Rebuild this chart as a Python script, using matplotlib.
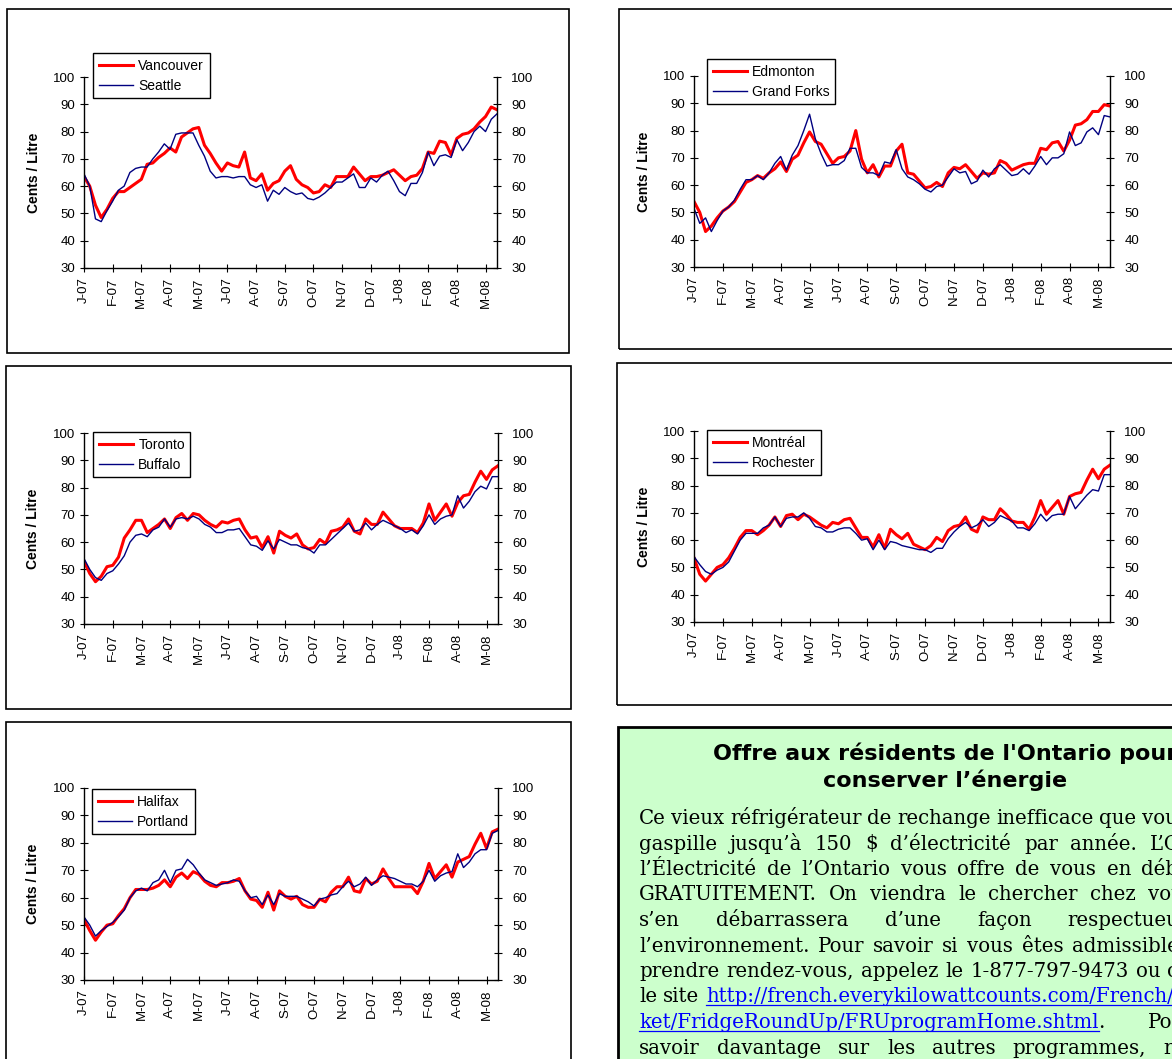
import matplotlib
matplotlib.use("Agg")
import matplotlib.pyplot as plt
import numpy as np
from matplotlib.patches import Rectangle
from matplotlib.lines import Line2D

plt.rcParams['font.family'] = ['Liberation Sans', 'DejaVu Sans']

W, H = 1172, 1059

# weekly prices, Jan 2007 - May 2008 (cents / litre)
weeks = np.arange(73)
tick_pos = np.arange(0, 71, 5)
tick_labels = ["J-07", "F-07", "M-07", "A-07", "M-07", "J-07", "A-07", "S-07",
               "O-07", "N-07", "D-07", "J-08", "F-08", "A-08", "M-08"]

vancouver = [63.5, 60, 53, 48.5, 51.5, 55.5, 58, 58, 59.5, 61,
             62.5, 68, 68.5, 70.5, 72, 74, 72.5, 78, 79.5, 81,
             81.5, 75, 72, 68.5, 65.5, 68.5, 67.5, 67, 72.5, 63,
             62, 64.5, 58.5, 61, 62, 65.5, 67.5, 62.5, 60.5, 59.5,
             57.5, 58, 60.5, 59.5, 63.5, 63.5, 63.5, 67, 64.5, 62,
             63.5, 63.5, 64, 65, 66, 64, 62, 63.5, 64, 66.5,
             72.5, 72, 76.5, 76, 71.5, 77.5, 79, 79.5, 81, 83.5,
             85.5, 89, 88]
seattle = [64.5, 60, 48, 47, 51, 54.5, 58.5, 60, 65, 66.5,
           67, 67, 70, 72.5, 75.5, 73.5, 79, 79.5, 79.5, 79.5,
           75, 71, 65.5, 63, 63.5, 63.5, 63, 63.5, 63.5, 60.5,
           59.5, 60.5, 54.5, 58.5, 57, 59.5, 58, 57, 57.5, 55.5,
           55, 56, 57.5, 59.5, 61.5, 61.5, 63, 64.5, 59.5, 59.5,
           63, 61.5, 64, 65.5, 62, 58, 56.5, 61, 61, 65,
           72.5, 67.5, 71, 71.5, 70.5, 77, 73, 76, 80, 82,
           80, 84.5, 86.5]
edmonton = [54, 50, 43, 45, 48, 50.5, 52, 54, 57.5, 61,
            62, 63.5, 62.5, 64.5, 66, 68.5, 65, 69.5, 71, 75.5,
            79.5, 76, 75, 71.5, 68, 70, 70.5, 72.5, 80, 69.5,
            64.5, 67.5, 63, 67, 67, 72.5, 75, 64.5, 64, 61.5,
            59, 59.5, 61, 59.5, 64.5, 66.5, 66, 67.5, 65, 62.5,
            64.5, 64, 64.5, 69, 68, 65.5, 66.5, 67.5, 68, 68,
            73.5, 73, 75.5, 76, 72.5, 76.5, 82, 82.5, 84, 87,
            87, 89.5, 89]
grand_forks = [51.5, 46, 48, 43, 47, 50.5, 52, 54.5, 58.5, 62,
               62, 63.5, 62, 64.5, 68, 70.5, 65.5, 71, 74.5, 80,
               86, 77, 71.5, 67, 67.5, 67.5, 69, 73.5, 73.5, 66.5,
               64.5, 64.5, 63.5, 68.5, 68, 73, 66, 63, 62, 60.5,
               58.5, 57.5, 59.5, 60, 63, 66, 64.5, 65, 60.5, 61.5,
               65.5, 63, 66, 67.5, 65.5, 63.5, 64, 66, 64, 67,
               70.5, 67.5, 70, 70, 71.5, 79.5, 74.5, 75.5, 79.5, 81,
               78.5, 85.5, 85]
toronto = [53, 48.5, 45.5, 47.5, 51, 51.5, 54.5, 61.5, 64.5, 68,
           68, 63.5, 65, 66.5, 68.5, 65, 69, 70.5, 68, 70.5,
           70, 68, 66.5, 65.5, 67.5, 67, 68, 68.5, 64.5, 61.5,
           62, 58, 62, 56, 64, 62.5, 61.5, 63, 59, 57.5,
           58, 61, 59.5, 64, 64.5, 65.5, 68.5, 64, 63, 68.5,
           66.5, 66.5, 71, 68.5, 66, 65, 65, 65, 63.5, 67,
           74, 68, 71, 74, 69.5, 74.5, 77, 77.5, 82, 86,
           83, 86.5, 88]
buffalo = [54, 50, 47, 46, 48.5, 49.5, 52, 55, 60, 62.5,
           63, 62, 64.5, 65.5, 68.5, 65.5, 68.5, 69, 68.5, 69.5,
           68.5, 66.5, 65.5, 63.5, 63.5, 64.5, 64.5, 65, 62, 59,
           58.5, 57, 60.5, 57.5, 61, 60, 59, 59, 58, 57.5,
           56, 59, 59, 61, 63, 65, 67, 64, 64.5, 67,
           64.5, 66.5, 68, 67, 66, 65, 63.5, 64.5, 63, 66,
           70, 66.5, 68.5, 69.5, 70, 77, 72.5, 75, 78.5, 80.5,
           79.5, 84, 84]
montreal = [53.5, 47.5, 45, 47.5, 50, 51, 53.5, 57, 61, 63.5,
            63.5, 62, 63.5, 65.5, 68.5, 65, 69, 69.5, 67.5, 69.5,
            68.5, 67, 65.5, 64.5, 66.5, 66, 67.5, 68, 64.5, 61,
            61, 57.5, 62, 57, 64, 62, 60.5, 62.5, 58.5, 57.5,
            56.5, 58, 61, 59.5, 63.5, 65, 65.5, 68.5, 64, 63,
            68.5, 67.5, 67.5, 71.5, 69.5, 67, 66.5, 66.5, 64, 68.5,
            74.5, 69.5, 72, 74.5, 69.5, 76, 77, 77.5, 82, 86,
            82.5, 86, 87.5]
rochester = [54, 51, 48.5, 47.5, 49, 50, 52, 56, 60, 62.5,
             62.5, 62.5, 64.5, 65.5, 68.5, 65, 68, 68.5, 68.5, 70,
             68, 65, 64.5, 63, 63, 64, 64.5, 64.5, 62.5, 60,
             60.5, 56.5, 60, 56.5, 59.5, 59, 58, 57.5, 57, 56.5,
             56.5, 55.5, 57, 57, 60.5, 63, 65, 66.5, 64.5, 65.5,
             67.5, 65, 66.5, 69, 68, 67, 64.5, 64.5, 63.5, 66,
             69.5, 67, 69, 69.5, 69.5, 76, 71.5, 74, 76.5, 78.5,
             78, 84, 84]
halifax = [52, 48, 44.5, 47.5, 50, 50.5, 53.5, 56, 60, 63,
           63, 63, 63.5, 64.5, 66.5, 64, 67.5, 69, 67, 69.5,
           68.5, 66, 64.5, 64, 65.5, 65.5, 66, 67, 62.5, 59.5,
           59, 56.5, 62, 55.5, 62.5, 60.5, 59.5, 60.5, 57.5, 56.5,
           56.5, 59.5, 58.5, 62, 64, 64, 67.5, 62.5, 62, 67,
           65, 66, 70.5, 67, 64, 64, 64, 64, 61.5, 66,
           72.5, 67, 69.5, 72, 67.5, 73, 74, 75, 79.5, 83.5,
           78, 84, 85]
portland = [53, 50, 46, 48, 49.5, 51, 53, 55.5, 60, 62.5,
            63.5, 62.5, 65.5, 66.5, 70, 65.5, 70, 70.5, 74, 72,
            69, 66.5, 65.5, 64.5, 65, 65.5, 66.5, 66, 62.5, 60,
            60.5, 57.5, 61, 57.5, 61.5, 60.5, 60.5, 60.5, 59.5, 58.5,
            57, 59.5, 60, 61, 61.5, 64, 66, 64, 65, 67.5,
            64.5, 66.5, 68, 67.5, 67, 66, 65, 65, 64, 66,
            70, 66, 68, 69, 69.5, 76, 71, 73, 76, 77.5,
            77.5, 83.5, 84.5]

title_lines = ["Offre aux résidents de l'Ontario pour", "conserver l’énergie"]
body_lines = [
    "Ce vieux réfrigérateur de rechange inefficace que vous gardez",
    "gaspille jusqu’à 150 $ d’électricité par année. L’Office de",
    "l’Électricité de l’Ontario vous offre de vous en débarrasser",
    "GRATUITEMENT. On viendra le chercher chez vous et on",
    "s’en débarrassera d’une façon respectueuse de",
    "l’environnement. Pour savoir si vous êtes admissible et pour",
    "prendre rendez-vous, appelez le 1-877-797-9473 ou consultez",
    "le site http://french.everykilowattcounts.com/French/Mar-",
    "ket/FridgeRoundUp/FRUprogramHome.shtml. Pour en",
    "savoir davantage sur les autres programmes, rabais et",
]
unjustified = {7}   # line ends on a manual break
links = {"http://french.everykilowattcounts.com/French/Mar-": "http://french.everykilowattcounts.com/French/Mar-",
         "ket/FridgeRoundUp/FRUprogramHome.shtml.": "ket/FridgeRoundUp/FRUprogramHome.shtml"}

fig = plt.figure(figsize=(W / 100, H / 100), dpi=100)


def fx(x):
    return x / W


def fy(y):
    return 1 - y / H


def frame(x0, y0, x1, y1, lw=1.2, fc='none'):
    fig.add_artist(Rectangle((fx(x0), fy(y1)), (x1 - x0) / W, (y1 - y0) / H,
                             transform=fig.transFigure, facecolor=fc,
                             edgecolor='black', lw=lw))


def chart(box, plot, leg, ylab_x, red, blue, names):
    frame(*box)
    l, t, r, b = plot
    ax = fig.add_axes([fx(l), fy(b), (r - l) / W, (b - t) / H])
    ax.plot(weeks, red, color='#ff0000', lw=2.2, label=names[0], solid_joinstyle='round')
    ax.plot(weeks, blue, color='#000080', lw=1.0, label=names[1], solid_joinstyle='round')
    ax.set_xlim(0, 72)
    ax.set_ylim(30, 100)
    ax.set_yticks(range(30, 101, 10))
    ax.set_xticks(tick_pos)
    ax.set_xticklabels(tick_labels, rotation=90)
    ax.patch.set_alpha(0)
    for s in ['top', 'right']:
        ax.spines[s].set_visible(False)
    for s in ['left', 'bottom']:
        ax.spines[s].set_linewidth(1.0)
    ax.tick_params(direction='inout', length=5.5, width=0.8, labelsize=9.5)
    ax.tick_params(axis='x', pad=4)
    ax.tick_params(axis='y', pad=3.5)

    ax2 = ax.twinx()
    ax2.set_ylim(30, 100)
    ax2.set_yticks(range(30, 101, 10))
    for s in ['top', 'left', 'bottom']:
        ax2.spines[s].set_visible(False)
    ax2.spines['right'].set_linewidth(1.0)
    ax2.tick_params(direction='inout', length=5.5, width=0.8, labelsize=9.5, pad=7.5)

    lg = ax2.legend(handles=ax.get_lines(), loc='upper left',
                    bbox_to_anchor=(fx(leg[0]), fy(leg[1])), bbox_transform=fig.transFigure,
                    fontsize=10, handlelength=2.5, handletextpad=0.36, labelspacing=0.45,
                    borderpad=0.4, borderaxespad=0, fancybox=False, framealpha=1,
                    edgecolor='black')
    lg.get_frame().set_linewidth(1.0)

    fig.text(fx(ylab_x), fy((t + b) / 2), 'Cents / Litre', rotation=90, ha='center',
             va='center', fontsize=10, fontweight='bold')


chart((7, 9, 569, 353), (84, 77, 497, 268), (93, 53), 34, vancouver, seattle,
      ["Vancouver", "Seattle"])
chart((619, 9, 1200, 349), (694, 76, 1110, 267), (707, 59), 644.5, edmonton, grand_forks,
      ["Edmonton", "Grand Forks"])
chart((6, 366, 571, 709), (84, 433, 498, 624), (93, 432), 33, toronto, buffalo,
      ["Toronto", "Buffalo"])
chart((617, 363, 1200, 705), (694, 431, 1110, 622), (707, 430), 644.5, montreal, rochester,
      ["Montréal", "Rochester"])
chart((6, 722, 571, 1100), (84, 788, 498, 980), (92, 789), 33, halifax, portland,
      ["Halifax", "Portland"])

# text box
frame(618, 727, 1300, 1100, lw=2.0, fc='#ccffcc')
for i, s in enumerate(title_lines):
    fig.text(fx(945), fy(760.5 + 26.5 * i), s, ha='center', va='baseline',
             family='DejaVu Sans', fontweight='bold', fontsize=16)

renderer = fig.canvas.get_renderer()
body_font = dict(family='DejaVu Serif', fontsize=14.2)


def width(s):
    t = fig.text(0, 0, s, **body_font)
    w = t.get_window_extent(renderer).width
    t.remove()
    return w


space_w = width("x x") - width("xx")
x_left, x_right = 639, 1262
for i, line in enumerate(body_lines):
    y = 824 + 25.5 * i
    words = line.split(' ')
    widths = [width(w) for w in words]
    if i in unjustified:
        gap = space_w
    else:
        gap = max((x_right - x_left - sum(widths)) / (len(words) - 1), 4)
    x = x_left
    for w, ww in zip(words, widths):
        if w in links:
            part = links[w]
            pw = width(part)
            fig.text(fx(x), fy(y), part, color='#0000ff', va='baseline', **body_font)
            fig.add_artist(Line2D([fx(x), fx(x + pw)], [fy(y + 2.5), fy(y + 2.5)],
                                  transform=fig.transFigure, color='#0000ff', lw=0.9))
            rest = w[len(part):]
            if rest:
                fig.text(fx(x + pw), fy(y), rest, color='black', va='baseline', **body_font)
        else:
            fig.text(fx(x), fy(y), w, color='black', va='baseline', **body_font)
        x += ww + gap

fig.savefig("out.png", dpi=100)
